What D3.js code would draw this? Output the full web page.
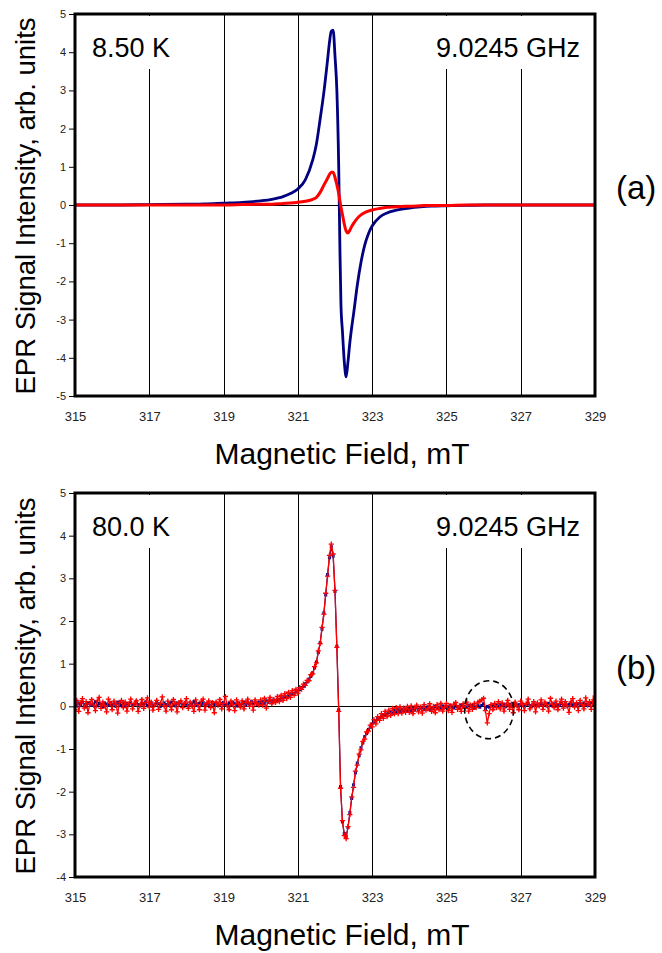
<!DOCTYPE html>
<html><head><meta charset="utf-8">
<script src="https://cdn.jsdelivr.net/npm/d3@7"></script>
<style>
body{margin:0;background:#fff}
svg{display:block}
text{font-family:Arial,"Liberation Sans",sans-serif}
</style>
</head><body>
<svg id="chart" width="662" height="953"></svg>
<script>
// ---------- data ----------
const fieldTicks = [315, 317, 319, 321, 323, 325, 327, 329];
const gridFields = [317, 319, 321, 323, 325, 327];
const topTicksY = [-5, -4, -3, -2, -1, 0, 1, 2, 3, 4, 5];
const bottomTicksY = [-4, -3, -2, -1, 0, 1, 2, 3, 4, 5];

// panel (a) 8.50 K
const topField = [315, 316, 317, 318, 318.5, 319, 319.5, 320, 320.3, 320.6, 320.8, 321.0, 321.2, 321.4, 321.5, 321.6, 321.7, 321.8, 321.85, 321.9, 321.95, 322.0, 322.05, 322.1, 322.13, 322.16, 322.2, 322.25, 322.3, 322.35, 322.4, 322.45, 322.5, 322.6, 322.7, 322.8, 322.9, 323.0, 323.2, 323.4, 323.6, 323.8, 324.0, 324.3, 324.6, 325.0, 325.5, 326, 327, 328, 329];
const topBlue = [0.0, 0.0, 0.01, 0.02, 0.03, 0.05, 0.07, 0.11, 0.15, 0.22, 0.30, 0.42, 0.66, 1.18, 1.6, 2.25, 2.95, 3.8, 4.25, 4.55, 4.58, 3.9, 3.0, 1.0, -1.0, -2.6, -3.3, -4.1, -4.5, -4.1, -3.6, -3.2, -2.85, -2.1, -1.5, -1.05, -0.75, -0.55, -0.32, -0.21, -0.15, -0.11, -0.08, -0.05, -0.03, -0.02, -0.01, 0, 0, 0, 0];
const topRed = [0.0, 0.0, 0.0, 0.0, 0.0, 0.0, 0.01, 0.02, 0.02, 0.04, 0.05, 0.07, 0.10, 0.15, 0.2, 0.33, 0.52, 0.7, 0.8, 0.86, 0.86, 0.72, 0.53, 0.3, 0.12, -0.05, -0.25, -0.5, -0.68, -0.73, -0.66, -0.56, -0.48, -0.35, -0.26, -0.2, -0.16, -0.13, -0.09, -0.06, -0.05, -0.04, -0.03, -0.02, -0.01, -0.01, 0, 0, 0, 0, 0];

// panel (b) 80.0 K, sampled every 0.05 mT from 315 mT
const bottomFieldStart = 315;
const bottomFieldStep = 0.05;
const bottomBlue = [
 0.05,0.01,0.08,0.02,0.10,0.04,0.00,0.07,0.09,0.02,
 0.05,0.11,0.01,0.07,0.04,-0.01,0.08,0.05,0.02,0.09,
 0.04,0.07,0.00,0.10,0.05,0.02,0.08,0.01,0.07,0.04,
 0.09,0.02,0.05,0.12,0.04,0.01,0.07,0.05,0.10,0.02,
 0.05,0.08,0.01,0.04,0.09,0.06,0.00,0.05,0.08,0.04,
 0.02,0.07,0.10,0.04,0.01,0.08,0.05,0.09,0.02,0.06,
 0.05,0.01,0.08,0.04,0.11,0.05,0.02,0.07,0.04,0.09,
 0.02,0.07,0.05,0.01,0.09,0.04,0.08,0.05,0.02,0.07,
 0.09,0.05,0.02,0.08,0.04,0.10,0.06,0.01,0.08,0.05,
 0.06,0.10,0.03,0.08,0.05,0.11,0.06,0.09,0.04,0.10,
 0.07,0.11,0.07,0.13,0.09,0.14,0.10,0.15,0.12,0.16,
 0.16,0.20,0.19,0.23,0.22,0.26,0.27,0.30,0.30,0.35,
 0.37,0.39,0.44,0.47,0.53,0.57,0.64,0.70,0.79,0.90,
 1.04,1.26,1.49,1.81,2.19,2.61,3.09,3.48,3.74,3.52,
 2.69,1.41,-0.08,-1.88,-2.71,-2.98,-3.05,-2.84,-2.49,-2.16,
 -1.84,-1.56,-1.33,-1.16,-0.97,-0.86,-0.71,-0.64,-0.54,-0.49,
 -0.41,-0.37,-0.35,-0.28,-0.27,-0.23,-0.22,-0.19,-0.18,-0.15,
 -0.13,-0.16,-0.10,-0.13,-0.08,-0.12,-0.07,-0.11,-0.06,-0.10,
 -0.05,-0.10,-0.04,-0.09,-0.03,-0.08,-0.05,-0.02,-0.08,-0.04,
 -0.01,-0.07,-0.03,-0.06,0.00,-0.05,-0.02,-0.06,0.01,-0.03,
 -0.01,-0.05,0.02,-0.02,-0.04,0.01,-0.01,-0.05,0.03,-0.01,
 0.00,-0.03,0.03,-0.01,0.02,-0.04,0.00,0.03,-0.02,0.02,
 0.06,-0.05,0.00,-0.02,0.01,0.04,-0.01,0.03,0.00,0.04,
 0.01,0.04,-0.01,0.03,0.05,0.00,0.03,0.06,0.01,0.04,
 0.02,0.05,0.01,0.04,0.07,0.02,0.00,0.05,0.03,0.01,
 0.03,0.06,0.02,0.05,0.01,0.07,0.03,0.02,0.06,0.03,
 0.04,0.02,0.07,0.03,0.06,0.01,0.04,0.08,0.03,0.05,
 0.02,0.07,0.04,0.03,0.08,0.04,0.02,0.06,0.09,0.04,
 0.03];
const bottomRed = [
 -0.08,0.14,-0.12,0.08,0.18,-0.04,0.11,-0.15,0.06,0.16,
 0.03,-0.10,0.13,0.21,-0.05,0.10,0.01,-0.13,0.17,0.07,
 -0.08,0.12,0.04,-0.16,0.09,0.14,-0.03,0.10,-0.11,0.06,
 0.17,-0.06,0.07,0.13,-0.12,0.03,0.16,-0.05,0.09,0.20,
 -0.02,0.10,-0.09,0.04,0.14,-0.07,0.07,0.22,0.01,-0.11,
 0.12,0.03,-0.08,0.16,0.06,-0.13,0.09,0.13,-0.03,0.07,
 0.18,-0.05,0.10,0.01,-0.12,0.15,0.04,-0.08,0.12,0.17,
 -0.09,0.06,0.13,-0.03,0.09,-0.15,0.10,0.03,0.16,-0.06,
 0.07,0.23,0.01,-0.08,0.12,0.04,-0.10,0.15,0.06,-0.02,
 0.13,-0.06,0.09,0.17,0.00,0.10,-0.09,0.15,0.07,0.03,
 0.15,0.03,0.19,-0.04,0.12,0.21,0.06,0.16,0.09,0.23,
 0.11,0.26,0.14,0.30,0.18,0.33,0.21,0.37,0.26,0.40,
 0.31,0.44,0.40,0.52,0.49,0.61,0.60,0.74,0.76,0.93,
 1.02,1.30,1.47,1.85,2.16,2.65,3.05,3.54,3.80,3.57,
 2.72,1.38,-0.12,-1.92,-2.68,-3.03,-3.10,-2.82,-2.54,-2.12,
 -1.90,-1.52,-1.38,-1.12,-1.02,-0.82,-0.77,-0.60,-0.58,-0.44,
 -0.48,-0.31,-0.41,-0.24,-0.33,-0.17,-0.28,-0.12,-0.24,-0.09,
 -0.21,-0.05,-0.18,-0.03,-0.17,-0.01,-0.16,-0.04,-0.14,0.00,
 -0.14,0.01,-0.17,-0.04,0.03,-0.13,-0.02,-0.16,0.04,-0.09,
 -0.06,0.06,-0.12,0.00,-0.15,0.04,-0.08,0.07,-0.11,-0.02,
 0.07,-0.10,0.02,-0.14,0.05,0.09,-0.07,0.01,-0.12,0.06,
 -0.05,0.10,-0.11,0.03,-0.07,0.07,-0.03,0.10,0.12,0.15,
 0.19,-0.10,-0.39,-0.17,0.04,-0.08,0.07,-0.03,0.11,-0.06,
 0.08,-0.11,0.03,0.14,-0.07,0.05,-0.15,0.10,0.01,-0.08,
 0.12,0.04,-0.10,0.07,0.17,-0.06,0.03,0.11,-0.13,0.08,
 0.01,0.15,-0.07,0.10,0.04,-0.11,0.19,0.05,-0.03,0.12,
 -0.08,0.07,0.17,-0.04,0.11,0.01,-0.14,0.10,0.18,-0.02,
 0.08,-0.10,0.14,0.04,-0.06,0.20,0.03,0.11,-0.07,0.15,
 0.24];

// annotation ellipse (field, intensity) and radii (mT, units)
const circleCenter = [326.15, -0.08];
const circleRadii = [0.66, 0.68];

const labelsLeft = ["8.50 K", "80.0 K"];
const labelsRight = ["9.0245 GHz", "9.0245 GHz"];
const panelTags = ["(a)", "(b)"];
const xTitle = "Magnetic Field, mT";
const yTitle = "EPR Signal Intensity, arb. units";

// ---------- drawing ----------
const svg = d3.select("#chart");
const L = 75, R = 595;
const blue = "#000080", red = "#ff0000";
const FONT = "Arial, Liberation Sans, sans-serif";

const x = d3.scaleLinear().domain([315, 329]).range([L, R]);

function panel(cfg) {
  const y = d3.scaleLinear().domain(cfg.yDomain).range([cfg.bottom, cfg.top]);
  const g = svg.append("g");
  const clipId = "clip" + cfg.idx;
  svg.append("defs").append("clipPath").attr("id", clipId)
    .append("rect").attr("x", L).attr("y", cfg.top).attr("width", R - L).attr("height", cfg.bottom - cfg.top);

  // vertical grid
  g.selectAll(".grid").data(gridFields).join("line")
    .attr("x1", d => Math.round(x(d)) + 0.5).attr("x2", d => Math.round(x(d)) + 0.5)
    .attr("y1", cfg.top).attr("y2", cfg.bottom)
    .attr("stroke", "#000").attr("stroke-width", 1);

  // label boxes (white)
  g.append("rect").attr("x", L + 2).attr("y", cfg.top + 2).attr("width", 110).attr("height", 53).attr("fill", "#fff");
  g.append("rect").attr("x", 432).attr("y", cfg.top + 2).attr("width", R - 434).attr("height", 53).attr("fill", "#fff");

  // zero line
  g.append("line").attr("x1", L).attr("x2", R)
    .attr("y1", Math.round(y(0)) + 0.5).attr("y2", Math.round(y(0)) + 0.5)
    .attr("stroke", "#000").attr("stroke-width", 1);

  const dg = g.append("g").attr("clip-path", `url(#${clipId})`);
  cfg.draw(dg, y);

  // frame
  g.append("rect").attr("x", L).attr("y", cfg.top).attr("width", R - L).attr("height", cfg.bottom - cfg.top)
    .attr("fill", "none").attr("stroke", "#000").attr("stroke-width", 3);

  // y axis ticks
  const yAxis = d3.axisLeft(y).tickValues(cfg.yTicks).tickSize(5).tickPadding(3).tickFormat(d => String(d));
  const ya = g.append("g").attr("transform", `translate(${L - 1},0)`).call(yAxis);
  ya.select(".domain").remove();
  ya.selectAll("line").attr("stroke", "#000");
  ya.selectAll("text").attr("font-size", 11).attr("fill", "#222").attr("font-family", FONT);

  // x axis labels
  const xAxis = d3.axisBottom(x).tickValues(fieldTicks).tickSize(0).tickPadding(0).tickFormat(d => String(d));
  const xa = g.append("g").attr("transform", `translate(0,${cfg.bottom + 16})`).call(xAxis);
  xa.select(".domain").remove();
  xa.selectAll("text").attr("font-size", 13).attr("fill", "#222").attr("dy", "0.71em").attr("font-family", FONT);

  // texts
  g.append("text").attr("x", 92).attr("y", cfg.top + 43).attr("font-size", 27).text(labelsLeft[cfg.idx]);
  g.append("text").attr("x", 580).attr("y", cfg.top + 43).attr("font-size", 27).attr("text-anchor", "end").text(labelsRight[cfg.idx]);
  g.append("text").attr("x", 616).attr("y", y(cfg.tagAt)).attr("font-size", 33).text(panelTags[cfg.idx]);

  g.append("text").attr("x", 342).attr("y", cfg.bottom + 68).attr("font-size", 30)
    .attr("text-anchor", "middle").text(xTitle);
  g.append("text").attr("transform", `translate(35,${(cfg.top + cfg.bottom) / 2 + 1}) rotate(-90)`)
    .attr("font-size", 27.5).attr("text-anchor", "middle").text(yTitle);
}

// Panel (a)
panel({
  idx: 0, top: 14, bottom: 396, yDomain: [-5, 5], yTicks: topTicksY, tagAt: 0.15,
  draw: (dg, y) => {
    const line = d3.line().x((d, i) => x(topField[i])).y(d => y(d)).curve(d3.curveMonotoneX);
    dg.append("path").attr("d", line(topBlue)).attr("fill", "none").attr("stroke", blue).attr("stroke-width", 2.8);
    dg.append("path").attr("d", line(topRed)).attr("fill", "none").attr("stroke", red).attr("stroke-width", 3);
  }
});

// Panel (b)
panel({
  idx: 1, top: 493, bottom: 877, yDomain: [-4, 5], yTicks: bottomTicksY, tagAt: 0.65,
  draw: (dg, y) => {
    const fx = i => x(bottomFieldStart + i * bottomFieldStep);
    const line = d3.line().x((d, i) => fx(i)).y(d => y(d));
    dg.append("path").attr("d", line(bottomBlue)).attr("fill", "none").attr("stroke", blue).attr("stroke-width", 1.2);
    dg.selectAll(".bm").data(bottomBlue).join("rect").attr("class", "bm")
      .attr("x", (d, i) => fx(i) - 1.5).attr("y", d => y(d) - 1.5).attr("width", 3).attr("height", 3).attr("fill", blue);
    dg.append("path").attr("d", line(bottomRed)).attr("fill", "none").attr("stroke", red).attr("stroke-width", 1.3);
    dg.selectAll(".rm").data(bottomRed).join("path").attr("class", "rm")
      .attr("d", (d, i) => { const cx = fx(i), cy = y(d); return `M${cx - 2.6},${cy}H${cx + 2.6}M${cx},${cy - 2.6}V${cy + 2.6}`; })
      .attr("stroke", red).attr("stroke-width", 1.3);
    // dashed ellipse annotation
    dg.append("ellipse")
      .attr("cx", x(circleCenter[0])).attr("cy", y(circleCenter[1]))
      .attr("rx", x(315 + circleRadii[0]) - x(315)).attr("ry", y(0) - y(circleRadii[1]))
      .attr("fill", "none").attr("stroke", "#000").attr("stroke-width", 1.6).attr("stroke-dasharray", "6,4");
  }
});
</script>
</body></html>
